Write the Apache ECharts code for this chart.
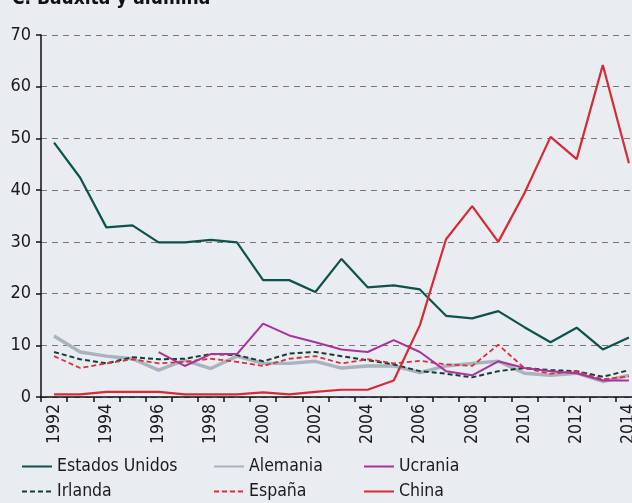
<!DOCTYPE html>
<html>
<head>
<meta charset="utf-8">
<script src="https://cdn.jsdelivr.net/npm/echarts@6/dist/echarts.min.js"></script>
<style>
  html, body { margin: 0; padding: 0; background: #e9ecf1; overflow: hidden; }
  #chart { width: 642px; height: 503px; }
</style>
</head>
<body>
<div id="chart"></div>
<script>
// Bauxite and alumina production shares (%), 1992–2014
const years = ['1992','1993','1994','1995','1996','1997','1998','1999','2000','2001','2002','2003',
               '2004','2005','2006','2007','2008','2009','2010','2011','2012','2013','2014'];

const estadosUnidos = [49.2, 42.4, 32.8, 33.2, 29.9, 29.9, 30.4, 29.9, 22.6, 22.6, 20.3, 26.7,
                       21.2, 21.6, 20.8, 15.7, 15.2, 16.6, 13.5, 10.6, 13.4, 9.2, 11.5];
const alemania = [11.8, 8.7, 7.9, 7.4, 5.2, 7.1, 5.5, 7.9, 6.5, 6.5, 6.9, 5.6,
                  6.0, 6.0, 4.7, 6.0, 6.5, 6.9, 4.6, 4.2, 4.6, 3.0, 4.2];
const ucrania = [null, null, null, null, 8.7, 6.0, 8.3, 8.3, 14.2, 11.9, 10.6, 9.2,
                 8.7, 11.0, 8.7, 5.0, 4.2, 6.9, 5.6, 5.0, 4.6, 3.2, 3.2];
const irlanda = [8.7, 7.3, 6.5, 7.7, 7.3, 7.4, 8.3, 8.1, 6.9, 8.4, 8.7, 7.9,
                 7.1, 6.3, 5.0, 4.5, 3.8, 5.0, 5.6, 5.2, 5.0, 3.9, 5.2];
const espana = [7.9, 5.6, 6.5, 7.3, 6.5, 6.8, 7.4, 6.8, 6.0, 7.4, 7.9, 6.5,
                7.3, 6.5, 7.0, 6.3, 6.0, 10.1, 5.6, 4.5, 5.0, 3.4, 4.0];
const china = [0.5, 0.5, 1.0, 1.0, 1.0, 0.5, 0.5, 0.5, 0.9, 0.5, 1.0, 1.4,
               1.4, 3.2, 13.9, 30.5, 36.9, 30.0, 39.4, 50.3, 46.0, 64.2, 45.2];

const yTicks = [0, 10, 20, 30, 40, 50, 60, 70];

const FONT = "'DejaVu Sans Condensed', 'Roboto', sans-serif";

function line(name, data, color, width, type, z) {
  return {
    name, type: 'line', data, symbol: 'none', showSymbol: false, z: z,
    lineStyle: { color, width, type },
    itemStyle: { color },
    connectNulls: false
  };
}

const chart = echarts.init(document.getElementById('chart'), null, { renderer: 'canvas' });

const legendText = { fontFamily: FONT, fontSize: 17.5, lineHeight: 19, color: '#1a1a1a' };
function legendCol(left, names) {
  return {
    orient: 'vertical', left, top: 457, padding: 0, itemWidth: 30, itemHeight: 14, itemGap: 6,
    data: names, textStyle: legendText, selectedMode: false,
    itemStyle: { opacity: 0 }
  };
}

chart.setOption({
  backgroundColor: '#e9ecf1',
  animation: false,
  title: {
    text: 'C. Bauxita y alúmina', left: 12, top: -10, padding: 0,
    textStyle: { fontFamily: FONT, fontSize: 19, fontWeight: 'bold', color: '#111' }
  },
  legend: [
    legendCol(21, ['Estados Unidos', 'Irlanda']),
    legendCol(213, ['Alemania', 'España']),
    legendCol(363, ['Ucrania', 'China'])
  ],
  grid: { left: 41, top: 35, bottom: 106, right: 0, containLabel: false },
  xAxis: {
    type: 'category', data: years, boundaryGap: true,
    axisLine: { lineStyle: { color: '#111', width: 1.5 } },
    axisTick: { show: true, interval: 0, length: 5, lineStyle: { color: '#111', width: 1.5 } },
    axisLabel: { interval: 1, rotate: 90, fontFamily: FONT, fontSize: 17.5, color: '#1a1a1a', margin: 7 }
  },
  yAxis: {
    type: 'value', min: yTicks[0], max: yTicks[yTicks.length - 1], interval: 10,
    axisLine: { show: true, lineStyle: { color: '#111', width: 1.5 } },
    axisTick: { show: true, length: 5, lineStyle: { color: '#111', width: 1.5 } },
    axisLabel: { fontFamily: FONT, fontSize: 18, color: '#1a1a1a', margin: 10 },
    splitLine: { show: true, lineStyle: { color: '#777', type: [6, 5], width: 1 } }
  },
  series: [
    line('Estados Unidos', estadosUnidos, '#0e524c', 2.2, 'solid', 5),
    line('Alemania', alemania, '#a8b3bd', 3.4, 'solid', 2),
    line('Ucrania', ucrania, '#a8339b', 2, 'solid', 4),
    line('Irlanda', irlanda, '#163c35', 2, [5, 3], 3),
    line('España', espana, '#d8303c', 1.8, [5, 3], 3),
    line('China', china, '#d62a36', 2.2, 'solid', 6)
  ]
});
</script>
</body>
</html>
